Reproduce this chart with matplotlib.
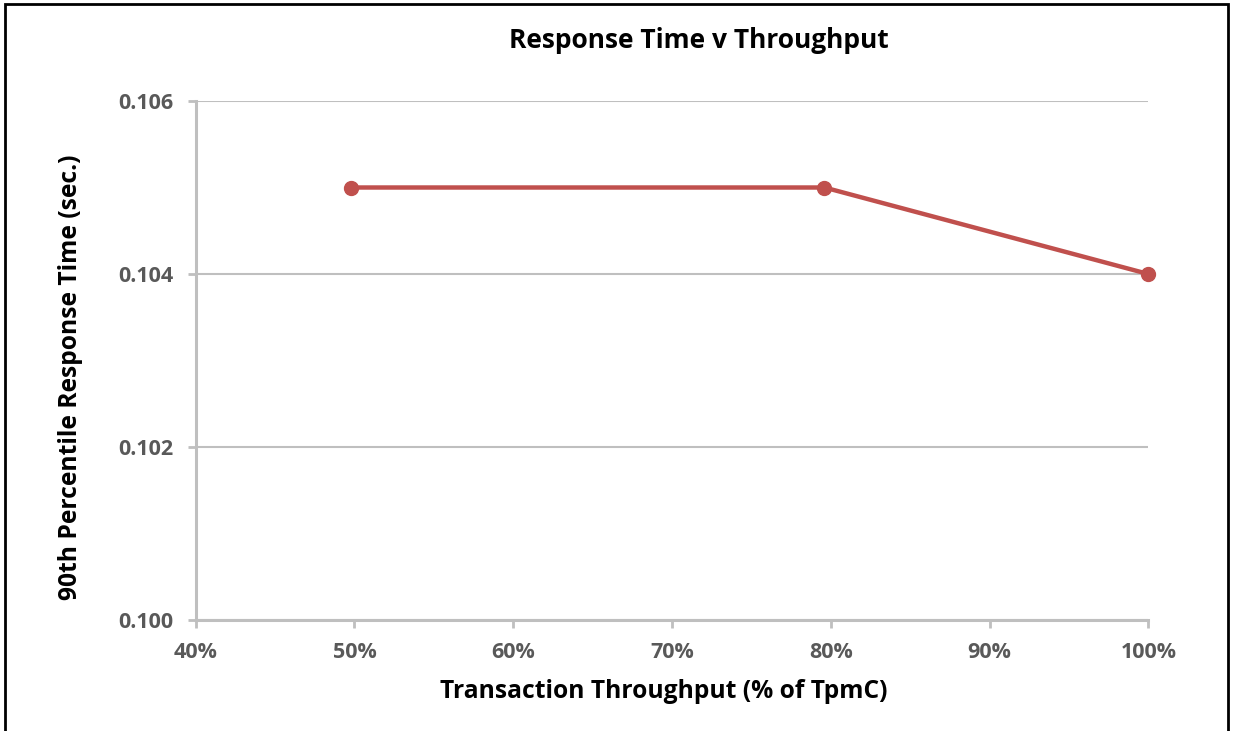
import matplotlib.pyplot as plt
from matplotlib.patches import Rectangle
from matplotlib.ticker import FuncFormatter

# Данные графика
throughput = [0.498, 0.796, 1.0]        # доля от TpmC
response_time = [0.105, 0.105, 0.104]   # 90-й перцентиль, сек.
x_ticks = [0.4, 0.5, 0.6, 0.7, 0.8, 0.9, 1.0]
y_ticks = [0.100, 0.102, 0.104, 0.106]

plt.rcParams['font.family'] = ['Open Sans', 'DejaVu Sans']

W, H = 1233, 731
fig = plt.figure(figsize=(W / 100, H / 100), dpi=100)
ax = fig.add_axes([195.7 / W, 1 - 620 / H, (1148.3 - 195.7) / W, (620 - 101) / H])

grid_c = '#BFBFBF'
tick_c = '#595959'

ax.plot(throughput, response_time, color='#C0504D', lw=3.2, marker='o',
        markersize=10, zorder=3, clip_on=False)

ax.set_xlim(0.4, 1.0)
ax.set_ylim(0.100, 0.106)
ax.set_xticks(x_ticks)
ax.set_yticks(y_ticks)
ax.xaxis.set_major_formatter(FuncFormatter(lambda v, p: f'{v * 100:.0f}%'))
ax.yaxis.set_major_formatter(FuncFormatter(lambda v, p: f'{v:.3f}'))

ax.grid(axis='y', color=grid_c, lw=1.5)
ax.set_axisbelow(True)
for s in ['top', 'right']:
    ax.spines[s].set_visible(False)
for s in ['left', 'bottom']:
    ax.spines[s].set_color(grid_c)
    ax.spines[s].set_linewidth(2.2)

ax.tick_params(axis='both', colors=grid_c, width=2, length=6, direction='out')
ax.tick_params(axis='both', labelcolor=tick_c, labelsize=15.5)
ax.tick_params(axis='x', pad=10)
ax.tick_params(axis='y', pad=10)
for lab in ax.get_xticklabels() + ax.get_yticklabels():
    lab.set_fontweight('bold')

# Заголовок и подписи осей — по координатам рисунка
fig.text(699 / W, 1 - 41 / H, 'Response Time v Throughput', fontsize=19,
         fontweight='bold', ha='center', va='center')
fig.text(664 / W, 1 - 691 / H, 'Transaction Throughput (% of TpmC)',
         fontsize=17.7, fontweight='bold', ha='center', va='center')
fig.text(71 / W, 1 - 377 / H, '90th Percentile Response Time (sec.)',
         fontsize=17.7, fontweight='bold', ha='center', va='center',
         rotation=90)

# Рамка вокруг рисунка
fig.patches.append(Rectangle((5 / W, -0.01), (1228 - 5) / W, 1 - 4 / H + 0.01,
                             transform=fig.transFigure, fill=False,
                             edgecolor='black', lw=2))

fig.savefig('out.png', dpi=100)
